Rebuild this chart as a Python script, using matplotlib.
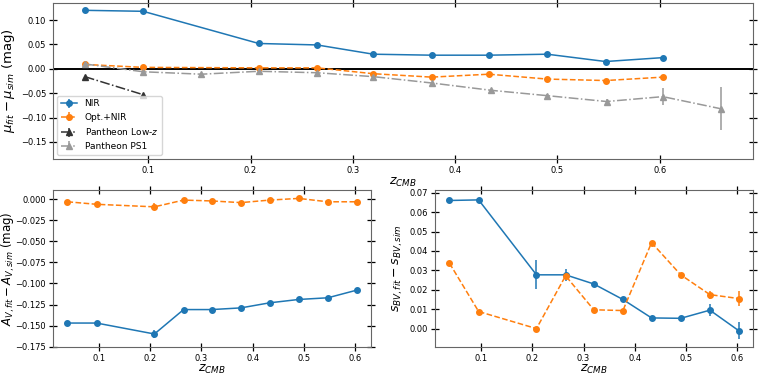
import matplotlib.pyplot as plt

# --- dados ---
z_bins = [0.038, 0.095, 0.208, 0.265, 0.320, 0.377, 0.433, 0.490, 0.547, 0.603]

mu_nir = [0.120, 0.118, 0.052, 0.049, 0.030, 0.028, 0.028, 0.030, 0.015, 0.023]
mu_nir_err = [0.001, 0.001, 0.005, 0.001, 0.001, 0.001, 0.001, 0.001, 0.002, 0.003]
mu_opt = [0.009, 0.003, 0.002, 0.002, -0.010, -0.017, -0.011, -0.021, -0.024, -0.017]
mu_opt_err = [0.001, 0.001, 0.002, 0.001, 0.001, 0.001, 0.001, 0.001, 0.001, 0.001]

z_lowz = [0.038, 0.095]
mu_lowz = [-0.016, -0.053]
mu_lowz_err = [0.002, 0.002]

z_ps1 = [0.038, 0.095, 0.152, 0.208, 0.265, 0.320, 0.377, 0.435, 0.490, 0.548, 0.603, 0.660]
mu_ps1 = [0.010, -0.006, -0.011, -0.005, -0.008, -0.016, -0.029, -0.044, -0.055, -0.067, -0.057, -0.082]
mu_ps1_err = [0.002, 0.002, 0.002, 0.002, 0.002, 0.002, 0.002, 0.002, 0.003, 0.006, 0.018, 0.044]

av_nir = [-0.147, -0.147, -0.160, -0.131, -0.131, -0.129, -0.123, -0.119, -0.117, -0.108]
av_nir_err = [0.001, 0.001, 0.005, 0.001, 0.001, 0.001, 0.001, 0.001, 0.001, 0.003]
av_opt = [-0.003, -0.006, -0.009, -0.001, -0.002, -0.004, -0.001, 0.001, -0.003, -0.003]
av_opt_err = [0.001, 0.001, 0.004, 0.001, 0.001, 0.001, 0.001, 0.001, 0.001, 0.001]

sbv_nir = [0.0660, 0.0663, 0.0277, 0.0277, 0.0230, 0.0150, 0.0055, 0.0053, 0.0095, -0.0010]
sbv_nir_err = [0.0002, 0.0003, 0.0075, 0.0030, 0.0006, 0.0010, 0.0005, 0.0008, 0.0030, 0.0045]
sbv_opt = [0.0337, 0.0088, 0.0000, 0.0272, 0.0097, 0.0093, 0.0443, 0.0277, 0.0175, 0.0155]
sbv_opt_err = [0.0005, 0.0005, 0.0005, 0.0010, 0.0005, 0.0005, 0.0005, 0.0005, 0.0020, 0.0040]

# --- figura ---
fig = plt.figure(figsize=(7.58, 3.76), dpi=100)
ax_top = fig.add_axes([0.0699, 0.577, 0.9235, 0.415])
ax_av = fig.add_axes([0.0699, 0.077, 0.4195, 0.4177])
ax_sbv = fig.add_axes([0.5739, 0.077, 0.4195, 0.4177])

nir_kw = dict(color='#1f77b4', ls='-', marker='o', ms=4, lw=1.1)
opt_kw = dict(color='#ff7f0e', ls='--', marker='o', ms=4, lw=1.1)

ax_top.errorbar(z_bins, mu_nir, yerr=mu_nir_err, label='NIR', **nir_kw)
ax_top.errorbar(z_bins, mu_opt, yerr=mu_opt_err, label='Opt.+NIR', **opt_kw)
ax_top.errorbar(z_lowz, mu_lowz, yerr=mu_lowz_err, color='#333333', ls='-.',
                marker='^', ms=4, lw=1.1, label='Pantheon Low-$z$')
ax_top.errorbar(z_ps1, mu_ps1, yerr=mu_ps1_err, color='#999999', ls='-.',
                marker='^', ms=4, lw=1.1, label='Pantheon PS1')
ax_top.axhline(0, color='black', lw=1.4, zorder=0.5)
ax_top.set_ylim(-0.185, 0.135)
ax_top.set_ylabel(r'$\mu_{fit} - \mu_{sim}$ (mag)', fontsize=9.5)
ax_top.yaxis.set_label_coords(-0.052, 0.5)
ax_top.set_xlabel(r'$z_{CMB}$', fontsize=9, labelpad=1)
ax_top.legend(loc='lower left', fontsize=6.5, handlelength=1.8)

ax_av.errorbar(z_bins, av_nir, yerr=av_nir_err, **nir_kw)
ax_av.errorbar(z_bins, av_opt, yerr=av_opt_err, **opt_kw)
ax_av.set_ylim(-0.1755, 0.011)
ax_av.set_ylabel(r'$A_{V,fit} - A_{V,sim}$ (mag)', fontsize=8.5)
ax_av.yaxis.set_label_coords(-0.113, 0.5)
ax_av.set_xlabel(r'$z_{CMB}$', fontsize=9, labelpad=0)

ax_sbv.errorbar(z_bins, sbv_nir, yerr=sbv_nir_err, **nir_kw)
ax_sbv.errorbar(z_bins, sbv_opt, yerr=sbv_opt_err, **opt_kw)
ax_sbv.set_ylim(-0.0095, 0.0714)
ax_sbv.set_ylabel(r'$s_{BV,fit} - s_{BV,sim}$', fontsize=9)
ax_sbv.yaxis.set_label_coords(-0.095, 0.5)
ax_sbv.set_xlabel(r'$z_{CMB}$', fontsize=9, labelpad=0)

for ax in (ax_top, ax_av, ax_sbv):
    ax.tick_params(direction='inout', top=True, right=True, labelsize=6, length=6, width=0.9, pad=2)
    for s in ax.spines.values():
        s.set_color('0.4')
        s.set_linewidth(0.8)

fig.savefig('out.png', dpi=100)
